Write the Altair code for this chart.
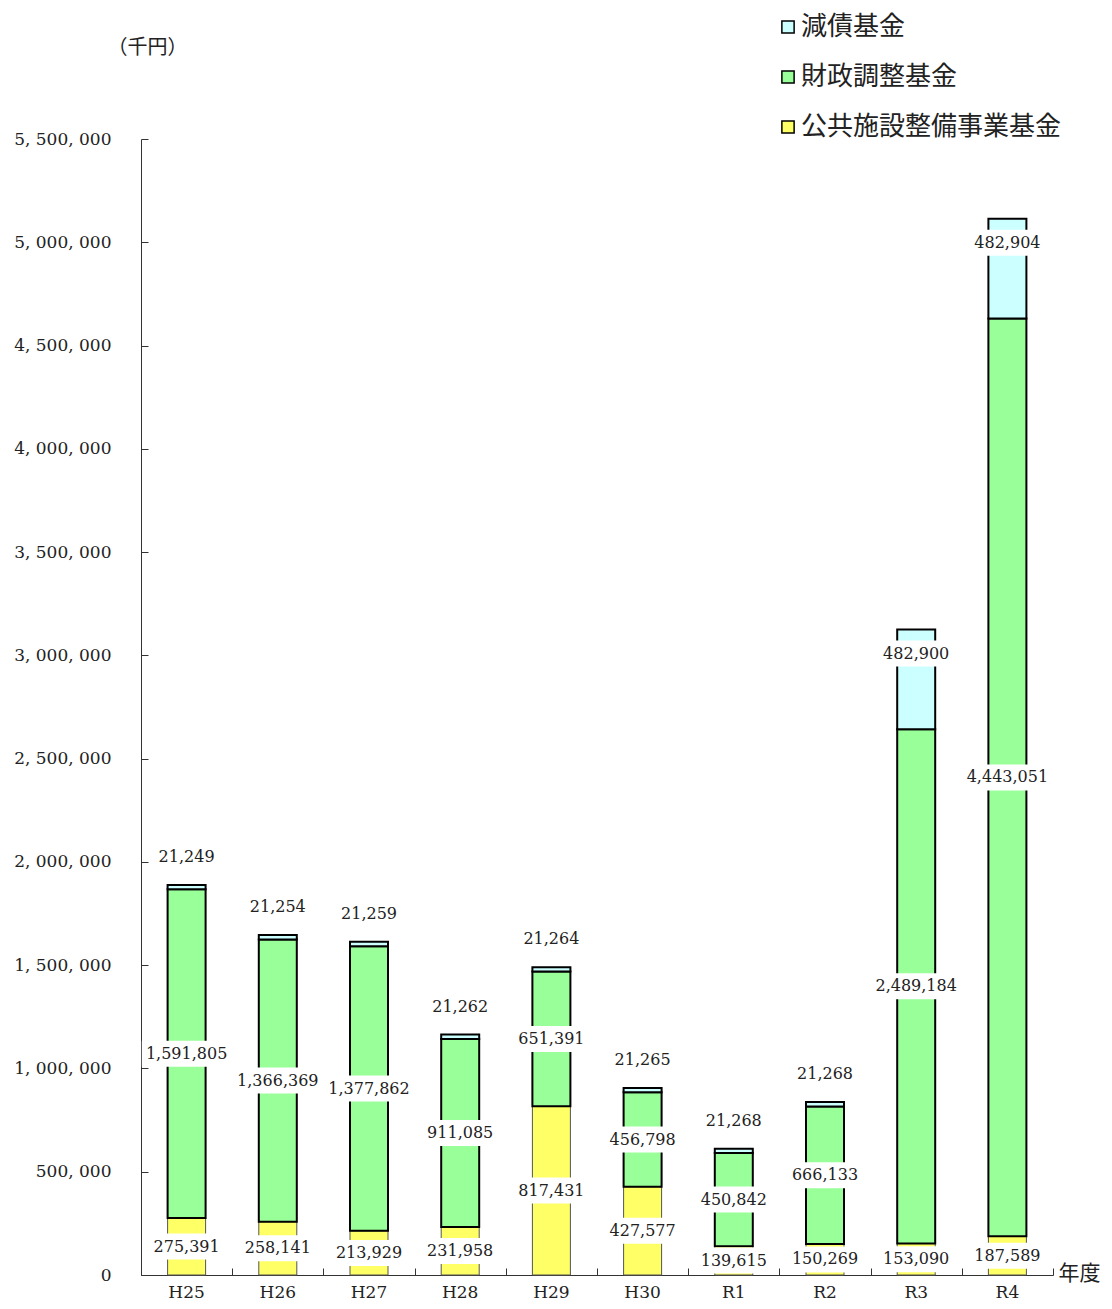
import altair as alt
import pandas as pd

# ---- data ----
categories = ['H25', 'H26', 'H27', 'H28', 'H29', 'H30', 'R1', 'R2', 'R3', 'R4']
kokyo = [275391, 258141, 213929, 231958, 817431, 427577, 139615, 150269, 153090, 187589]
zaisei = [1591805, 1366369, 1377862, 911085, 651391, 456798, 450842, 666133, 2489184, 4443051]
gensai = [21249, 21254, 21259, 21262, 21264, 21265, 21268, 21268, 482900, 482904]

stack_names = ['公共施設整備事業基金', '財政調整基金', '減債基金']
legend_order = ['減債基金', '財政調整基金', '公共施設整備事業基金']
legend_colors = ['#CCFFFF', '#99FF99', '#FFFF66']
y_ticks = list(range(0, 5500001, 500000))

Y_MAX = 5500000
PLOT_W, PLOT_H = 912, 1136
px_val = Y_MAX / PLOT_H

bar_rows, lab_rows = [], []
for i, c in enumerate(categories):
    base = 0
    for s, vals in zip(stack_names, [kokyo, zaisei, gensai]):
        v = vals[i]
        thin = s == '公共施設整備事業基金'
        bar_rows.append(dict(cat=c, series=s, y0=base, y1=base + v,
                             st='#555555' if thin else '#000000',
                             sw=1.0 if thin else 2.0))
        txt = f"{v:,}"
        nd = sum(ch.isdigit() for ch in txt)
        ncm = txt.count(',')
        w = nd * 10.2 + ncm * 5.1 + 8
        h = 26.0
        r = h / w
        shape = f"M-1,-{r:.4f}L1,-{r:.4f}L1,{r:.4f}L-1,{r:.4f}Z"
        if s == '減債基金':
            if v > 100000:
                lab_rows.append(dict(cat=c, label=txt, ypos=base + v - 24 * px_val,
                                     kind='box', shape=shape, size=w * w))
            else:
                lab_rows.append(dict(cat=c, label=txt, ypos=base + v,
                                     kind='above', shape=shape, size=w * w))
        else:
            lab_rows.append(dict(cat=c, label=txt, ypos=base + v / 2,
                                 kind='box', shape=shape, size=w * w))
        base += v

bars_df = pd.DataFrame(bar_rows)
lab_df = pd.DataFrame(lab_rows)

xscale = alt.Scale(domain=categories, paddingInner=0, paddingOuter=0)
yscale = alt.Scale(domain=[0, Y_MAX], nice=False, zero=True)

x_main = alt.X('cat:N', sort=categories, scale=xscale,
               axis=alt.Axis(orient='bottom', ticks=False, labelAngle=0, labelFont='DejaVu Serif',
                             labelFontSize=17, labelColor='#222', labelPadding=9,
                             domainColor='#333', domainWidth=1, grid=False,
                             title='年度', titleX=938, titleY=-2, titleAlign='center',
                             titleBaseline='middle', titleFont='Noto Sans CJK JP',
                             titleFontSize=21, titleFontWeight='normal', titleColor='#222'))
y_main = alt.Y('y0:Q', scale=yscale,
               axis=alt.Axis(orient='left', values=y_ticks, ticks=False, labelPadding=30,
                             labelFont='DejaVu Serif', labelFontSize=17, labelColor='#222',
                             labelExpr="replace(format(datum.value, ','), regexp(',', 'g'), ', ')",
                             domainColor='#333', domainWidth=1, grid=False,
                             title='（千円）', titleAngle=0, titleX=6, titleY=-92,
                             titleAlign='center', titleBaseline='middle',
                             titleFont='Noto Sans CJK JP', titleFontSize=20,
                             titleFontWeight='normal', titleColor='#222'))

bars = alt.Chart(bars_df).mark_bar(size=38).encode(
    x=x_main,
    y=y_main,
    y2='y1:Q',
    color=alt.Color('series:N',
                    scale=alt.Scale(domain=legend_order, range=legend_colors),
                    legend=alt.Legend(orient='none', legendX=634, legendY=-125, title=None,
                                      symbolType='square', symbolSize=150,
                                      symbolStrokeColor='black', symbolStrokeWidth=1.5,
                                      symbolOpacity=1,
                                      labelFont='Noto Sans CJK JP', labelFontSize=26,
                                      labelColor='#222', labelOffset=0, rowPadding=24,
                                      padding=0, labelLimit=400)),
    stroke=alt.Stroke('st:N', scale=None),
    strokeWidth=alt.StrokeWidth('sw:Q', scale=None),
)

# inward tick marks (axes only)
ticks = alt.Chart(bars_df).mark_bar(opacity=0).encode(
    x=alt.X('cat:N', sort=categories, scale=xscale,
            axis=alt.Axis(orient='bottom', offset=-7, tickSize=7, tickBand='extent',
                          labels=False, domain=False, title=None, tickColor='#333',
                          grid=False)),
    y=alt.Y('y0:Q', scale=yscale,
            axis=alt.Axis(orient='left', offset=-7, tickSize=7, values=y_ticks,
                          labels=False, domain=False, title=None, tickColor='#333',
                          grid=False)),
    y2='y1:Q',
)

lx = alt.X('cat:N', sort=categories, scale=xscale, axis=None)
ly = alt.Y('ypos:Q', scale=yscale, axis=None)

boxes = alt.Chart(lab_df).transform_filter(alt.datum.kind == 'box').mark_point(
    filled=True, color='white', opacity=1, strokeWidth=0
).encode(
    x=lx, y=ly,
    shape=alt.Shape('shape:N', scale=None),
    size=alt.Size('size:Q', scale=None),
)

texts_box = alt.Chart(lab_df).transform_filter(alt.datum.kind == 'box').mark_text(
    font='DejaVu Serif', fontSize=16, baseline='middle', align='center', color='#222'
).encode(x=lx, y=ly, text='label:N')

texts_above = alt.Chart(lab_df).transform_filter(alt.datum.kind == 'above').mark_text(
    font='DejaVu Serif', fontSize=16, baseline='middle', align='center', color='#222', dy=-28
).encode(x=lx, y=ly, text='label:N')

chart = alt.layer(bars, ticks, boxes, texts_box, texts_above).resolve_axis(
    x='independent', y='independent'
).properties(
    width=PLOT_W, height=PLOT_H,
    padding={'left': 133, 'top': 131, 'right': 51, 'bottom': 30},
    autosize='none',
    background='white',
).configure_view(stroke=None)

chart.save("out.html", embed_options={"renderer": "svg", "actions": False})
